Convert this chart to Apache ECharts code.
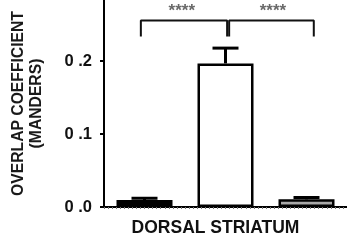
<!DOCTYPE html>
<html><head><meta charset="utf-8">
<script src="https://cdn.jsdelivr.net/npm/echarts@6/dist/echarts.min.js"></script>
<style>html,body{margin:0;padding:0;background:#fff}#c{width:347px;height:241px}</style>
</head><body><div id="c"></div>
<script>
const categories = ['A', 'B', 'C'];
const means = [0.0095, 0.197, 0.0105];
const errors = [0.0025, 0.021, 0.0025];
const barColors = ['#000000', '#ffffff', '#a9a9a9'];
const yTicks = [0, 0.1, 0.2];
const yTickLabels = ['0 .0', '0 .1', '0 .2'];
const bracketLeft = [[-0.045, 0.234], [-0.045, 0.256], [1.02, 0.256], [1.02, 0.234]];
const bracketRight = [[1.045, 0.234], [1.045, 0.256], [2.09, 0.256], [2.09, 0.234]];
const stars = [[0.46, 0.271, '****'], [1.585, 0.271, '****']];
const xName = 'DORSAL STRIATUM';
const yName = 'OVERLAP COEFFICIENT\n(MANDERS)';

const chart = echarts.init(document.getElementById('c'));
chart.setOption({
  animation: false,
  grid: {left: 104, right: 0, top: 0, bottom: 34, outerBoundsMode: 'none', containLabel: false},
  xAxis: [{
    type: 'category', data: categories,
    axisLine: {lineStyle: {color: '#000', width: 2}},
    axisTick: {show: false}, axisLabel: {show: false},
    name: xName, nameLocation: 'middle', nameGap: 12,
    nameTextStyle: {fontFamily: 'Liberation Sans', fontWeight: 'bold', fontSize: 17.5, color: '#111', padding: [0, 20, 0, 0]}
  }, {
    type: 'value', min: -0.5, max: 2.5, interval: 0.05, position: 'bottom',
    axisLine: {show: false}, splitLine: {show: false}, axisLabel: {show: false},
    axisTick: {show: true, length: 2, lineStyle: {color: '#777', width: 1}}
  }],
  yAxis: {
    type: 'value', min: 0, max: 0.284,
    axisLine: {show: true, onZero: false, lineStyle: {color: '#000', width: 2}},
    axisTick: {show: true, length: 4, customValues: yTicks, lineStyle: {color: '#000', width: 2}},
    splitLine: {show: false},
    axisLabel: {customValues: yTicks, margin: 12, fontFamily: 'Liberation Sans', fontWeight: 'bold', fontSize: 16.5, color: '#111',
      formatter: v => yTickLabels[yTicks.findIndex(t => Math.abs(t - v) < 1e-9)]},
    name: yName, nameLocation: 'middle', nameRotate: 90, nameGap: 58,
    nameTextStyle: {fontFamily: 'Liberation Sans', fontWeight: 'bold', fontSize: 15.7, lineHeight: 18, color: '#1a1a1a', align: 'center'}
  },
  series: [{
    type: 'bar', barWidth: 56,
    data: means.map((m, i) => ({value: m, itemStyle: {color: barColors[i]}})),
    itemStyle: {borderColor: '#000', borderWidth: 2.5},
    z: 2
  }, {
    type: 'custom', z: 3,
    data: means.map((m, i) => [i, m, errors[i]]),
    renderItem: (params, api) => {
      const base = api.coord([api.value(0), api.value(1)]);
      const top = api.coord([api.value(0), api.value(1) + api.value(2)]);
      const st = {stroke: '#000', lineWidth: 3};
      return {type: 'group', children: [
        {type: 'line', shape: {x1: base[0], y1: base[1], x2: top[0], y2: top[1]}, style: st},
        {type: 'line', shape: {x1: top[0] - 13, y1: top[1], x2: top[0] + 13, y2: top[1]}, style: st}
      ]};
    }
  }, {
    type: 'line', xAxisIndex: 1, data: bracketLeft, symbol: 'none',
    lineStyle: {color: '#111', width: 2}
  }, {
    type: 'line', xAxisIndex: 1, data: bracketRight, symbol: 'none',
    lineStyle: {color: '#111', width: 2}
  }, {
    type: 'scatter', xAxisIndex: 1, data: stars, symbolSize: 0,
    label: {show: true, position: 'inside', formatter: p => p.value[2],
      fontFamily: 'Liberation Sans', fontWeight: 'bold', fontSize: 17, color: '#444', offset: [0, 2]}
  }]
});
</script></body></html>
